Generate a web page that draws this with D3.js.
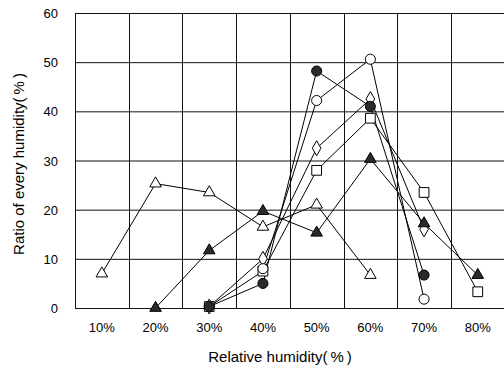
<!DOCTYPE html>
<html>
<head>
<meta charset="utf-8">
<script src="https://cdn.jsdelivr.net/npm/d3@7"></script>
<style>
  body { margin: 0; background: #fff; }
  text { font-family: "Liberation Sans", "Noto Sans CJK JP", sans-serif; fill: #000; }
  .tick { font-family: "Liberation Sans Narrow", "Liberation Sans", sans-serif; }
</style>
</head>
<body>
<svg id="chart" width="504" height="369"></svg>
<script>
const categories = ["10%", "20%", "30%", "40%", "50%", "60%", "70%", "80%"];
const yTicks = [0, 10, 20, 30, 40, 50, 60];

// null = no point for that humidity
const squareVals   = [null, null, 0.3, 7.5, 28, 38.6, 23.5, 3.3];
const diamondVals  = [null, null, 0.3, 10, 32.5, 42.5, 16, null];
const openCircle   = [null, null, null, 8, 42.2, 50.6, 1.8, null];
const filledCircle = [null, null, 0.3, 5, 48.2, 41, 6.7, null];
const openTri      = [7, 25.3, 23.5, 16.5, 21, 6.7, null, null];
const filledTri    = [null, 0, 11.7, 19.7, 15.3, 30.3, 17.2, 6.7];

const series = [
  { vals: squareVals, shape: d3.symbolSquare, size: 95, fill: "#fff" },
  { vals: diamondVals, shape: d3.symbolDiamond, size: 65, fill: "#fff" },
  { vals: openCircle, shape: d3.symbolCircle, size: 80, fill: "#fff" },
  { vals: filledCircle, shape: d3.symbolCircle, size: 80, fill: "#2a2a2a" },
  { vals: openTri, shape: d3.symbolTriangle, size: 58, fill: "#fff" },
  { vals: filledTri, shape: d3.symbolTriangle, size: 58, fill: "#2a2a2a" }
];

const svg = d3.select("#chart");
const margin = { left: 75, top: 13, bottom: 308 };

const x = d3.scaleBand().domain(categories).range([margin.left, 504 + 0.6]);
const y = d3.scaleLinear().domain([0, 60]).range([margin.bottom, margin.top]);

const grid = svg.append("g");
// horizontal grid
grid.selectAll(".h").data(yTicks).enter().append("line")
  .attr("x1", margin.left).attr("x2", 504)
  .attr("y1", d => y(d) + 0.5).attr("y2", d => y(d) + 0.5)
  .attr("stroke", "#111").attr("stroke-width", 1);
// vertical grid between categories
const edges = categories.map(c => x(c));
grid.selectAll(".v").data(edges).enter().append("line")
  .attr("x1", d => Math.round(d) + 0.5).attr("x2", d => Math.round(d) + 0.5)
  .attr("y1", y(60)).attr("y2", y(0))
  .attr("stroke", "#111").attr("stroke-width", 1);

// y tick labels
svg.append("g").selectAll("text").data(yTicks).enter().append("text")
  .attr("class", "tick")
  .attr("x", 58).attr("y", d => y(d) + 5)
  .attr("text-anchor", "end").attr("font-size", 13)
  .text(d => d);

// x tick labels
svg.append("g").selectAll("text").data(categories).enter().append("text")
  .attr("class", "tick")
  .attr("x", d => x(d) + x.bandwidth() / 2).attr("y", 332)
  .attr("text-anchor", "middle").attr("font-size", 13)
  .text(d => d);

svg.append("text").attr("x", 280).attr("y", 362)
  .attr("text-anchor", "middle").attr("font-size", 15)
  .text("Relative humidity(\u2009%\u2009)");

svg.append("text")
  .attr("transform", "translate(24,164) rotate(-90)")
  .attr("text-anchor", "middle").attr("font-size", 15)
  .text("Ratio of every humidity(\u2009%\u2009)");

const line = d3.line()
  .defined(d => d.v !== null)
  .x(d => x(d.c) + x.bandwidth() / 2)
  .y(d => y(d.v));

const plot = svg.append("g");
series.forEach(s => {
  const pts = categories.map((c, i) => ({ c: c, v: s.vals[i] }));
  plot.append("path").datum(pts)
    .attr("d", line).attr("fill", "none")
    .attr("stroke", "#000").attr("stroke-width", 1);
});
series.forEach(s => {
  const pts = categories.map((c, i) => ({ c: c, v: s.vals[i] })).filter(d => d.v !== null);
  plot.append("g").selectAll("path").data(pts).enter().append("path")
    .attr("d", d3.symbol().type(s.shape).size(s.size))
    .attr("transform", d => `translate(${x(d.c) + x.bandwidth() / 2},${y(d.v)})`)
    .attr("fill", s.fill).attr("stroke", "#000").attr("stroke-width", 1);
});
</script>
</body>
</html>
